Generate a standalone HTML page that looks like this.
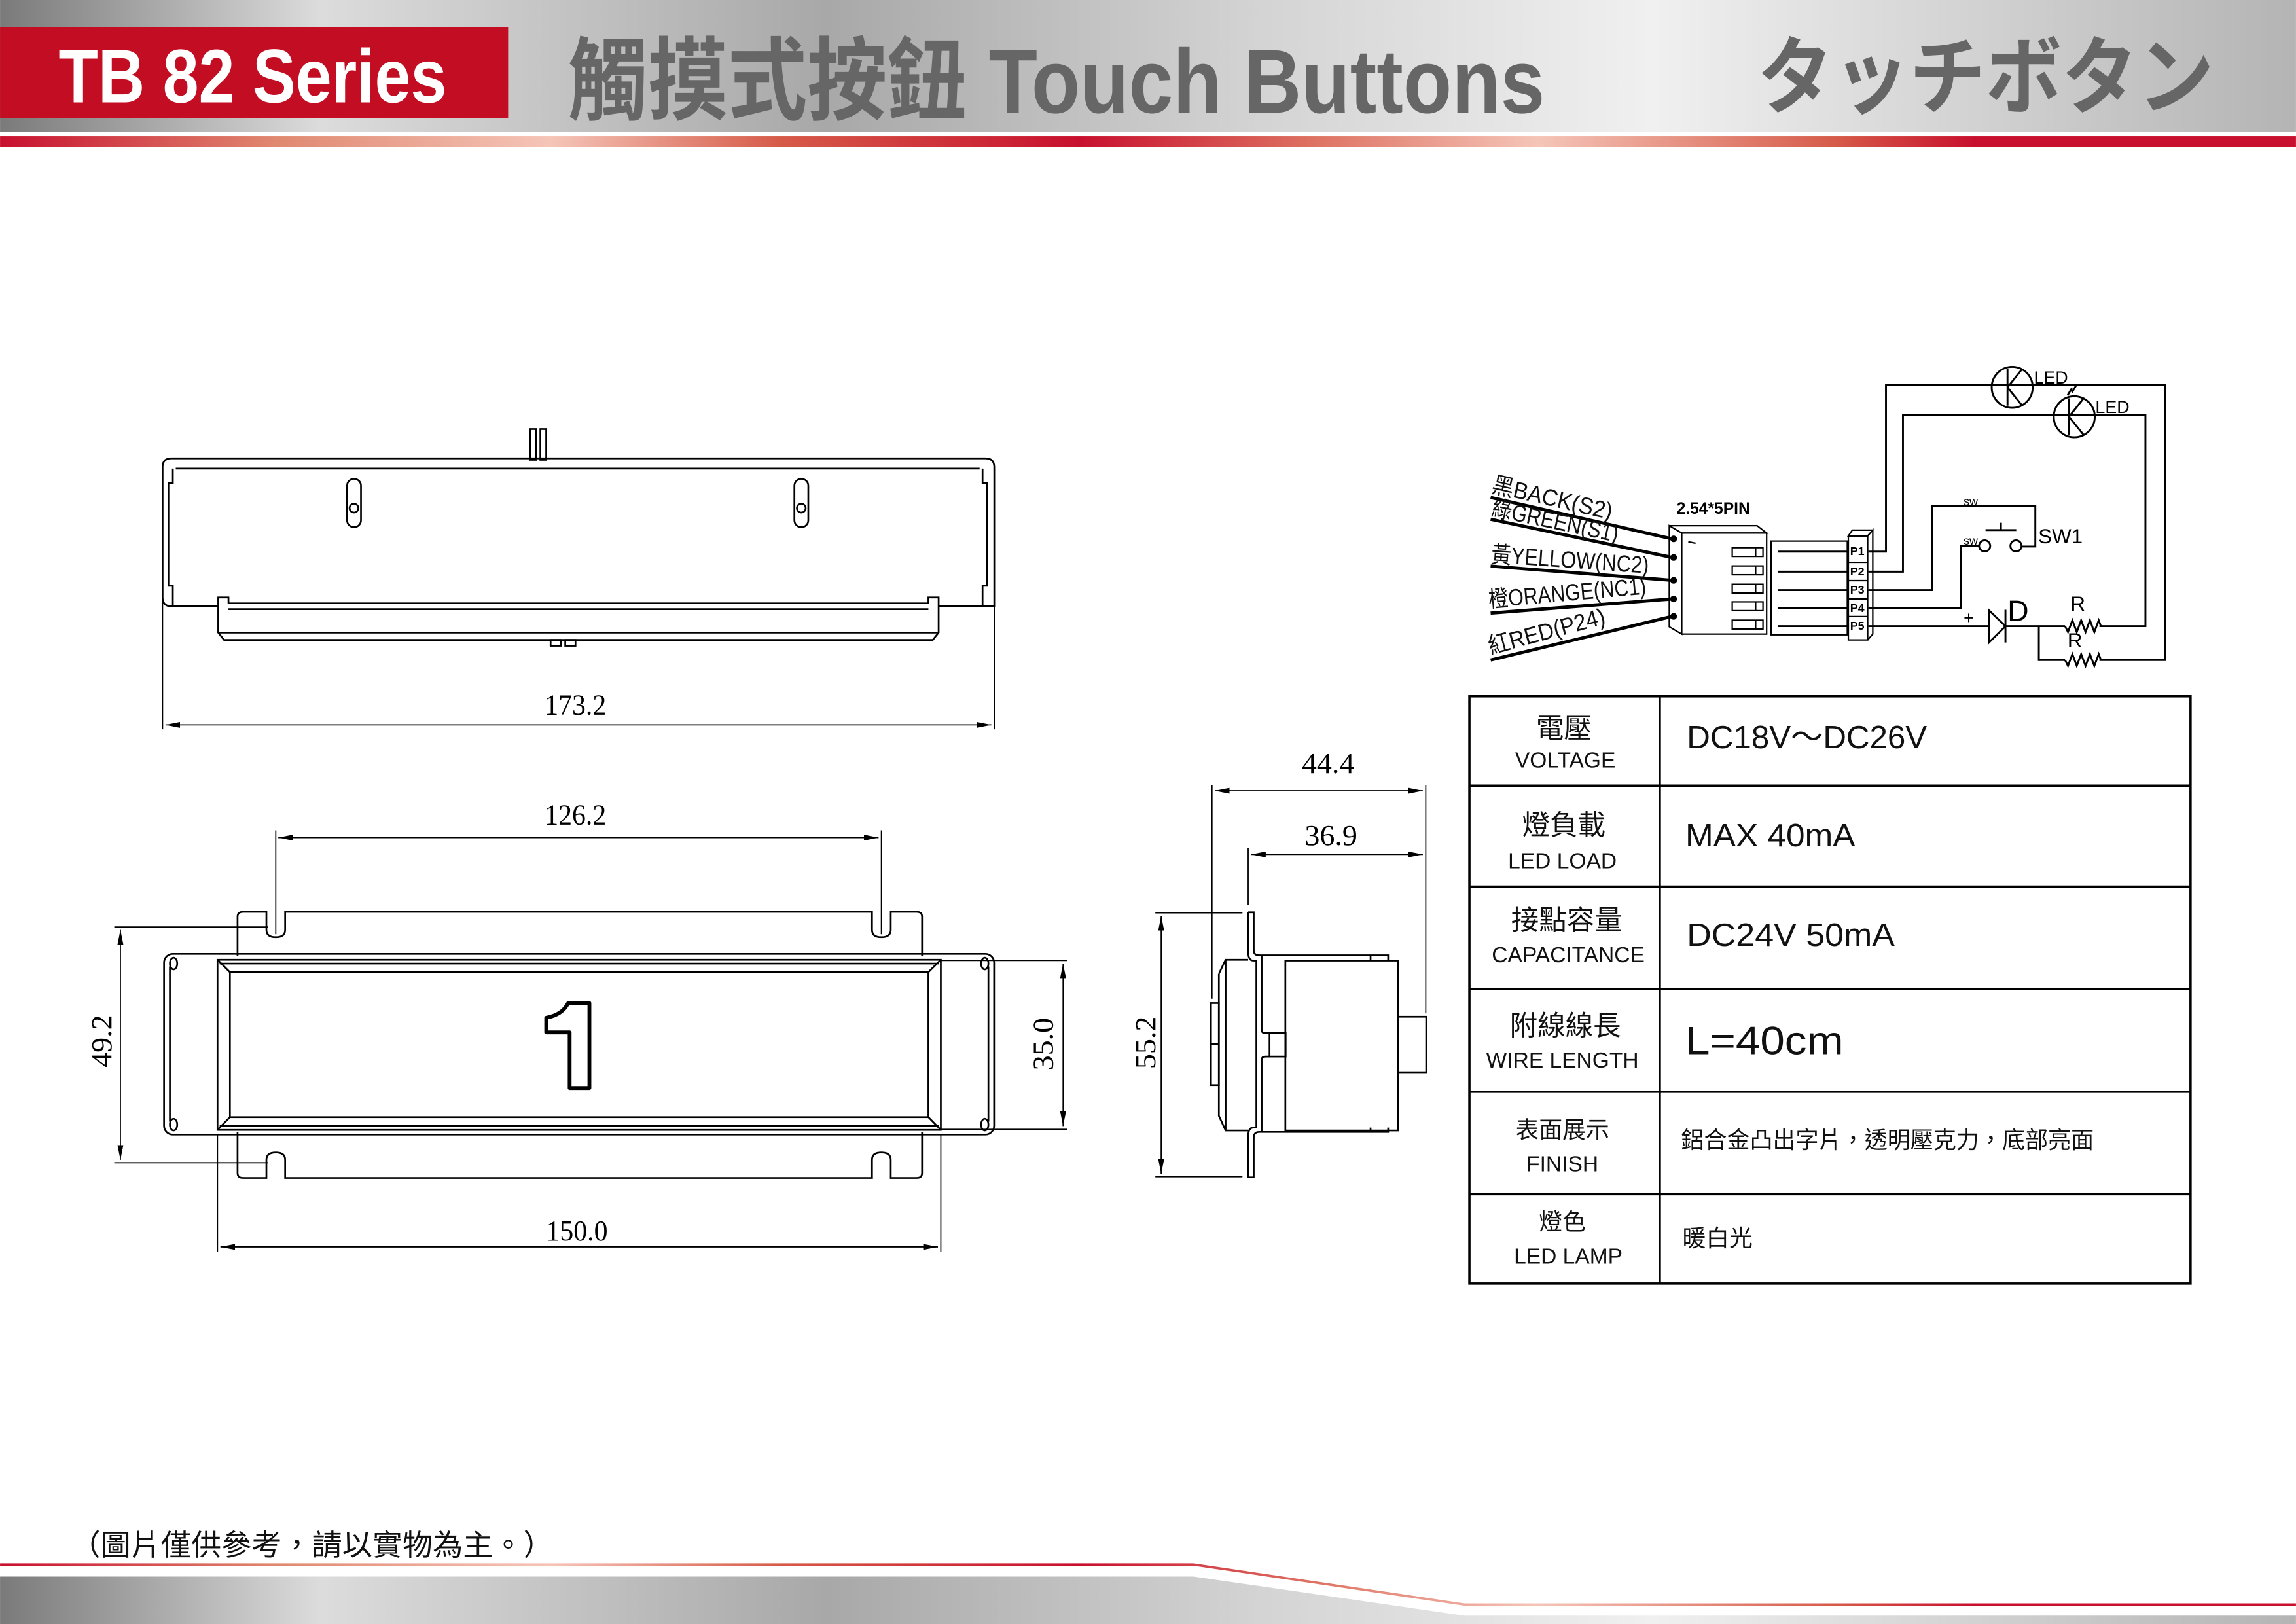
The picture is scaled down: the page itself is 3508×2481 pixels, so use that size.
<!DOCTYPE html>
<html><head><meta charset="utf-8">
<style>
html,body{margin:0;padding:0;background:#fff;}
svg{display:block;}
text{font-family:"Liberation Sans","Noto Sans CJK TC",sans-serif;}
.ser{font-family:"Liberation Serif","Noto Serif CJK SC",serif;}
</style></head>
<body>
<svg width="3508" height="2481" viewBox="0 0 1568 1109" xmlns="http://www.w3.org/2000/svg">
<defs>
<linearGradient id="silver" x1="0" x2="1" y1="0" y2="0">
<stop offset="0" stop-color="#7a7a7a"/>
<stop offset="0.14" stop-color="#dcdcdc"/>
<stop offset="0.36" stop-color="#a8a8a8"/>
<stop offset="0.55" stop-color="#d4d4d4"/>
<stop offset="0.72" stop-color="#f0f0f0"/>
<stop offset="1" stop-color="#b4b4b4"/>
</linearGradient>
<linearGradient id="redg" x1="0" x2="1" y1="0" y2="0">
<stop offset="0" stop-color="#c8102e"/>
<stop offset="0.12" stop-color="#e08870"/>
<stop offset="0.24" stop-color="#f5c5b8"/>
<stop offset="0.34" stop-color="#d65a48"/>
<stop offset="0.47" stop-color="#c8102e"/>
<stop offset="0.57" stop-color="#dd7060"/>
<stop offset="0.67" stop-color="#f5c5b8"/>
<stop offset="0.8" stop-color="#d65a48"/>
<stop offset="0.86" stop-color="#c8102e"/>
<stop offset="1" stop-color="#c8102e"/>
</linearGradient>
<marker id="ar" viewBox="0 0 10 4" refX="10" refY="2" markerWidth="10" markerHeight="4" orient="auto-start-reverse" markerUnits="userSpaceOnUse">
<path d="M0,0 L10,2 L0,4 Z" fill="#000"/>
</marker>
</defs>

<!-- HEADER -->
<rect x="0" y="0" width="1568" height="90" fill="url(#silver)"/>
<rect x="0" y="93" width="1568" height="7.5" fill="url(#redg)"/>
<rect x="0" y="18.6" width="347" height="62" fill="#c30d23"/>
<text x="40" y="70" font-size="52" font-weight="bold" fill="#fff" textLength="265" lengthAdjust="spacingAndGlyphs">TB 82  Series</text>
<text x="388" y="77" font-size="62" font-weight="bold" fill="#666" textLength="667" lengthAdjust="spacingAndGlyphs">觸摸式按鈕 Touch Buttons</text>
<text x="1200" y="73" font-size="58" font-weight="bold" fill="#666" textLength="312" lengthAdjust="spacingAndGlyphs">タッチボタン</text>

<!-- FOOTER -->
<path d="M0,1076.6 H815 L1000,1103.3 H1568 V1109 H0 Z" fill="url(#silver)"/>
<path d="M0,1068.4 H815 L1000,1095.7 H1568" fill="none" stroke="url(#redg)" stroke-width="1.6"/>
<text x="48" y="1062" font-size="20" fill="#111" textLength="330" lengthAdjust="spacingAndGlyphs">（圖片僅供參考，請以實物為主。）</text>

<g fill="none" stroke="#000" stroke-width="1.2">
<!-- TOP VIEW -->
<rect x="362" y="293" width="4" height="21"/>
<rect x="369" y="293" width="4" height="21"/>
<path d="M117,313 H673 Q679,313 679,319 V414 H641"/>
<path d="M149,414 H117 Q111,414 111,408 V319 Q111,313 117,313"/>
<path d="M120,320 H669"/>
<path d="M118,320 V330 H115 V400 H118 V414"/>
<path d="M671,320 V330 H674 V400 H671 V414"/>
<path d="M149,408 H156 V412 H634 V408 H641 V432 L637,437 H153 L149,432 Z"/>
<path d="M156,416 H634"/>
<path d="M149,432 H641"/>
<rect x="237" y="327" width="9.5" height="33" rx="4.7"/>
<circle cx="241.7" cy="347" r="3"/>
<rect x="542.5" y="327" width="9.5" height="33" rx="4.7"/>
<circle cx="547.2" cy="347" r="3"/>
<rect x="376" y="437" width="7" height="4"/>
<rect x="386" y="437" width="7" height="4"/>
</g>
<g stroke="#000" stroke-width="0.8" fill="none">
<path d="M111,410 V498"/><path d="M679,410 V498"/>
<path d="M113,495 H677" marker-start="url(#ar)" marker-end="url(#ar)"/>
</g>
<text class="ser" x="372" y="488" font-size="20" textLength="42" lengthAdjust="spacingAndGlyphs">173.2</text>

<!-- FRONT VIEW -->
<g fill="none" stroke="#000" stroke-width="1.2">
<path d="M162.2,652.7 V626 Q162.2,622.7 166,622.7 H181.9 V635 Q181.9,640 188.3,640 Q194.7,640 194.7,635 V622.7 H595.5 V635 Q595.5,640 601.9,640 Q608.3,640 608.3,635 V622.7 H626 Q629.7,622.7 629.7,626 V652.7"/>
<path d="M162.2,773.2 V801 Q162.2,804.4 166,804.4 H181.9 V792 Q181.9,787 188.3,787 Q194.7,787 194.7,792 V804.4 H595.5 V792 Q595.5,787 601.9,787 Q608.3,787 608.3,792 V804.4 H626 Q629.7,804.4 629.7,801 V773.2"/>
<rect x="112" y="651.4" width="566.9" height="123.4" rx="6"/>
<path d="M116,660 V766"/><path d="M675,660 V766"/>
<ellipse cx="118.5" cy="658" rx="2.5" ry="4"/><ellipse cx="118.5" cy="768" rx="2.5" ry="4"/>
<ellipse cx="672.5" cy="658" rx="2.5" ry="4"/><ellipse cx="672.5" cy="768" rx="2.5" ry="4"/>
<rect x="148.5" y="655.4" width="494" height="116.2"/>
<rect x="157" y="663.9" width="477" height="99"/>
<path d="M148.5,655.4 L157,663.9 M642.5,655.4 L634,663.9 M148.5,771.6 L157,762.9 M642.5,771.6 L634,762.9"/>
<path d="M150,658 H641 M150,769 H641"/>
</g>
<path d="M388,685 H402.5 V743 H389 V705 H373 V695 Q384,693 388,685 Z" fill="#fff" stroke="#000" stroke-width="2.6" stroke-linejoin="round"/>
<g stroke="#000" stroke-width="0.8" fill="none">
<path d="M188.3,567 V638"/><path d="M601.9,567 V638"/>
<path d="M190,572 H600" marker-start="url(#ar)" marker-end="url(#ar)"/>
<path d="M78,633 H183"/><path d="M78,794 H183"/>
<path d="M82.2,635 V792" marker-start="url(#ar)" marker-end="url(#ar)"/>
<path d="M643,655.9 H729"/><path d="M643,771.2 H729"/>
<path d="M726,658 V769" marker-start="url(#ar)" marker-end="url(#ar)"/>
<path d="M148.5,775 V855"/><path d="M642.5,775 V855"/>
<path d="M150.5,851.5 H640.5" marker-start="url(#ar)" marker-end="url(#ar)"/>
</g>
<text class="ser" x="372" y="563" font-size="20" textLength="42" lengthAdjust="spacingAndGlyphs">126.2</text>
<text class="ser" x="373" y="847" font-size="20" textLength="42" lengthAdjust="spacingAndGlyphs">150.0</text>
<text class="ser" transform="translate(76,729) rotate(-90)" font-size="20" textLength="36" lengthAdjust="spacingAndGlyphs">49.2</text>
<text class="ser" transform="translate(719,731) rotate(-90)" font-size="20" textLength="36" lengthAdjust="spacingAndGlyphs">35.0</text>

<!-- SIDE VIEW -->
<g fill="none" stroke="#000" stroke-width="1.2">
<path d="M852.4,623 H856.2 V649 Q856.2,652.4 860,652.4 H861.6 M856.2,623 M852.4,623 V650 Q852.4,656 856,656 H858 V770 H856 Q852.4,770 852.4,776 V804 H856.2 V777 Q856.2,773 860,773 H861.6"/>
<path d="M832.4,665 L837,655.4 H852.4 M832.4,665 V762 L837,772 H852.4"/>
<path d="M837,655.4 V772"/>
<rect x="827" y="685" width="5.4" height="56"/>
<path d="M827,713 H832.4"/>
<path d="M861.6,652.4 H948 V656 M861.6,652.4 V703 Q861.6,705.5 864,705.5 H867 M861.6,773 V724 Q861.6,721.5 864,721.5 H867 M861.6,773 H948 V770"/>
<rect x="867" y="705.5" width="11" height="16"/>
<path d="M877.8,656 H954.7 V772 H877.8 Z"/>
<path d="M936,652.4 V656 M936,770 V773"/>
<rect x="954.7" y="694.3" width="19.3" height="37.9"/>
</g>
<g stroke="#000" stroke-width="0.8" fill="none">
<path d="M827.7,536 V682"/><path d="M852.4,579 V618"/><path d="M973.7,536 V692"/>
<path d="M829.7,540 H971.7" marker-start="url(#ar)" marker-end="url(#ar)"/>
<path d="M854.4,583.5 H971.7" marker-start="url(#ar)" marker-end="url(#ar)"/>
<path d="M789,623.4 H848.5"/><path d="M789,803.6 H848.5"/>
<path d="M793,625.4 V801.6" marker-start="url(#ar)" marker-end="url(#ar)"/>
</g>
<text class="ser" x="889" y="528" font-size="20" textLength="36" lengthAdjust="spacingAndGlyphs">44.4</text>
<text class="ser" x="891" y="577" font-size="20" textLength="36" lengthAdjust="spacingAndGlyphs">36.9</text>
<text class="ser" transform="translate(789,730) rotate(-90)" font-size="20" textLength="36" lengthAdjust="spacingAndGlyphs">55.2</text>

<!-- TABLE -->
<g fill="none" stroke="#000" stroke-width="1.6">
<rect x="1003.5" y="475.5" width="492.5" height="401"/>
<path d="M1133.5,475.5 V876.5"/>
<path d="M1003.5,536.5 H1496 M1003.5,605.5 H1496 M1003.5,675.5 H1496 M1003.5,745.5 H1496 M1003.5,815.5 H1496"/>
</g>
<g font-size="19" text-anchor="middle" fill="#111">
<text x="1068" y="504">電壓</text>
<text x="1068" y="570">燈負載</text>
<text x="1070" y="635">接點容量</text>
<text x="1069" y="707">附線線長</text>
<text x="1067" y="777" font-size="16">表面展示</text>
<text x="1067" y="840" font-size="16">燈色</text>
</g>
<g font-size="15" text-anchor="middle" fill="#111">
<text x="1069" y="524">VOLTAGE</text>
<text x="1067" y="593">LED  LOAD</text>
<text x="1071" y="657">CAPACITANCE</text>
<text x="1067" y="729">WIRE  LENGTH</text>
<text x="1067" y="800">FINISH</text>
<text x="1071" y="863">LED  LAMP</text>
</g>
<g fill="#111">
<text x="1152" y="511" font-size="22" textLength="164" lengthAdjust="spacingAndGlyphs">DC18V～DC26V</text>
<text x="1151" y="578" font-size="22" textLength="116" lengthAdjust="spacingAndGlyphs">MAX 40mA</text>
<text x="1152" y="646" font-size="22" textLength="142" lengthAdjust="spacingAndGlyphs">DC24V 50mA</text>
<text x="1151" y="720" font-size="27" textLength="108" lengthAdjust="spacingAndGlyphs">L=40cm</text>
<text x="1148" y="784" font-size="16" textLength="282" lengthAdjust="spacingAndGlyphs">鋁合金凸出字片，透明壓克力，底部亮面</text>
<text x="1149" y="851" font-size="16">暖白光</text>
</g>

<!-- WIRING -->
<g fill="none" stroke="#000" stroke-width="2.2">
<path d="M1018,339.7 L1142,368"/>
<path d="M1018,354.6 L1142,380.7"/>
<path d="M1018,386.6 L1142,396.3"/>
<path d="M1018,418.7 L1142,409"/>
<path d="M1018,450.7 L1142,420.9"/>
</g>
<g font-size="16" fill="#111">
<text transform="translate(1018,336) rotate(13)" textLength="84" lengthAdjust="spacingAndGlyphs">黑BACK(S2)</text>
<text transform="translate(1018,352) rotate(12)" textLength="88" lengthAdjust="spacingAndGlyphs">綠GREEN(S1)</text>
<text transform="translate(1018,384) rotate(4)" textLength="108" lengthAdjust="spacingAndGlyphs">黃YELLOW(NC2)</text>
<text transform="translate(1017,415) rotate(-5)" textLength="108" lengthAdjust="spacingAndGlyphs">橙ORANGE(NC1)</text>
<text transform="translate(1018,447) rotate(-15)" textLength="82" lengthAdjust="spacingAndGlyphs">紅RED(P24)</text>
</g>
<text x="1145" y="351" font-size="11" font-weight="bold">2.54*5PIN</text>
<g fill="none" stroke="#000" stroke-width="1">
<path d="M1140,359 L1148.5,364 V433 L1140,428 Z"/>
<path d="M1140,359 H1200 L1206.5,364 H1148.5"/>
<rect x="1148.5" y="364" width="58" height="69"/>
<path d="M1153,370 L1158,371"/>
<rect x="1183" y="374" width="21" height="6"/><path d="M1199,374 V380"/>
<rect x="1183" y="386.5" width="21" height="6"/><path d="M1199,386.5 V392.5"/>
<rect x="1183" y="399" width="21" height="6"/><path d="M1199,399 V405"/>
<rect x="1183" y="411" width="21" height="6"/><path d="M1199,411 V417"/>
<rect x="1183" y="423.5" width="21" height="6"/><path d="M1199,423.5 V429.5"/>
<rect x="1209.6" y="369.5" width="52" height="64"/>
<path d="M1262.3,366 L1265,362 H1279 L1275.5,366 Z"/>
<rect x="1262.3" y="366" width="13.2" height="71"/>
<path d="M1275.5,366 L1279,362 V433 L1275.5,437"/>
<path d="M1262.3,384 H1275.5 M1262.3,396.5 H1275.5 M1262.3,409 H1275.5 M1262.3,421 H1275.5"/>
</g>
<g fill="#000">
<circle cx="1143" cy="368" r="2.3"/><circle cx="1143" cy="380.7" r="2.3"/><circle cx="1143" cy="396.3" r="2.3"/><circle cx="1143" cy="409" r="2.3"/><circle cx="1143" cy="420.9" r="2.3"/>
</g>
<g stroke="#000" stroke-width="1.3" fill="none">
<path d="M1214,376.7 H1262 M1214,390.4 H1262 M1214,403 H1262 M1214,415.4 H1262 M1214,427.6 H1262"/>
</g>
<g font-size="8" font-weight="bold" fill="#000">
<text x="1263.5" y="379">P1</text><text x="1263.5" y="393">P2</text><text x="1263.5" y="405.5">P3</text><text x="1263.5" y="418">P4</text><text x="1263.5" y="430">P5</text>
</g>
<g fill="none" stroke="#000" stroke-width="1.3">
<path d="M1276,376.7 H1288 V263 H1478.7 V450.7 H1433.8"/>
<path d="M1276,390.4 H1299.6 V283.4 H1465.2 V427.6 H1433.8"/>
<path d="M1276,403 H1319.4 V345.7 H1390 V373.2 H1380.8"/>
<path d="M1276,415.4 H1339 V372.8 H1351.4"/>
<path d="M1276,427.6 H1358.6"/>
<path d="M1369.6,427.6 H1410.3"/>
<path d="M1392.4,427.6 V450.7 H1410.3"/>
<path d="M1410.3,427.6 l2,4 l3,-8 l3,8 l3,-8 l3,8 l3,-8 l3,8 l3,-8 l1.5,4"/>
<path d="M1410.3,450.7 l2,4 l3,-8 l3,8 l3,-8 l3,8 l3,-8 l3,8 l3,-8 l1.5,4"/>
<circle cx="1355.4" cy="372.8" r="3.8"/><circle cx="1376.8" cy="372.8" r="3.8"/>
<path d="M1356,362 H1377 M1366.5,357 V362"/>
<path d="M1358.6,417 L1369.6,427.6 L1358.6,438.5 Z M1369.6,416.4 V438.8"/>
<circle cx="1374.2" cy="264.5" r="14"/>
<path d="M1371,252 V277 M1371,264.5 L1381,252 M1371,264.5 L1381,277 M1381,263 H1390"/>
<circle cx="1416.6" cy="284.6" r="14"/>
<path d="M1413,272 V297 M1413,284.6 L1423,272 M1413,284.6 L1423,297 M1406,283.4 H1413 M1423,283.4 H1430"/>
<path d="M1412,270 l3,-5 M1415,268 l3,-5"/>
</g>
<g fill="#000">
<text x="1341" y="345" font-size="8">sw</text>
<text x="1341" y="372" font-size="8">sw</text>
<text x="1392" y="371" font-size="14">SW1</text>
<text x="1341" y="426" font-size="12">+</text>
<text x="1371" y="424" font-size="20">D</text>
<text x="1414" y="417" font-size="14">R</text>
<text x="1412" y="442" font-size="14">R</text>
<text x="1389" y="262" font-size="12">LED</text>
<text x="1431" y="282" font-size="12">LED</text>
</g>
</svg>
</body></html>
